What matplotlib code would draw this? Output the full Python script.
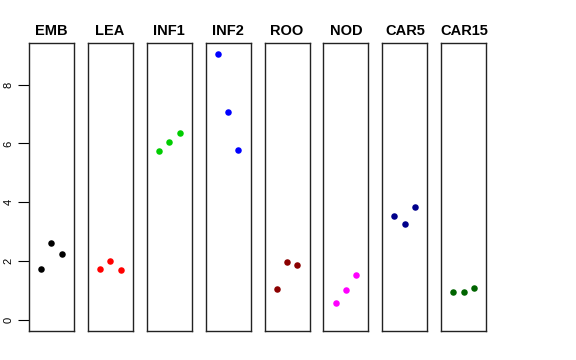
import matplotlib
matplotlib.use("Agg")
import matplotlib.pyplot as plt

plt.rcParams["font.family"] = ["Liberation Sans", "DejaVu Sans"]

# Datos de cada panel
tejidos = ["EMB", "LEA", "INF1", "INF2", "ROO", "NOD", "CAR5", "CAR15"]
colores = ["black", "red", "#00CD00", "blue", "#8B0000", "magenta", "#00008B", "#006400"]
replicas = [1, 2, 3]
EMB = [1.75, 2.62, 2.26]
LEA = [1.74, 2.01, 1.69]
INF1 = [5.73, 6.06, 6.37]
INF2 = [9.02, 7.07, 5.76]
ROO = [1.07, 1.99, 1.86]
NOD = [0.57, 1.02, 1.53]
CAR5 = [3.54, 3.28, 3.83]
CAR15 = [0.94, 0.95, 1.09]
valores = [EMB, LEA, INF1, INF2, ROO, NOD, CAR5, CAR15]
yticks = [0, 2, 4, 6, 8]

fig = plt.figure(figsize=(5.76, 3.6), dpi=100)
W, H = 576, 360
izq0, paso, ancho = 28.7, 58.95, 45.0
arriba, abajo = 43.3, 331.0

for i, (nombre, col, vals) in enumerate(zip(tejidos, colores, valores)):
    x0 = izq0 + i * paso
    ax = fig.add_axes([x0 / W, 1 - abajo / H, ancho / W, (abajo - arriba) / H])
    ax.scatter(replicas, vals, s=22, color=col, linewidths=0, zorder=3)
    ax.set_xlim(-0.16, 4.16)
    ax.set_ylim(-0.37, 9.4)
    ax.set_xticks([])
    for sp in ax.spines.values():
        sp.set_linewidth(1.0)
        sp.set_color("#222222")
    ax.set_title(nombre, fontsize=10.5, fontweight="bold", pad=6)
    if i == 0:
        ax.set_yticks(yticks)
        ax.set_yticklabels([str(t) for t in yticks], rotation=90, va="center", fontsize=8)
        ax.tick_params(axis="y", length=8, width=0.8, pad=3)
    else:
        ax.set_yticks([])

fig.savefig("out.png", dpi=100)
